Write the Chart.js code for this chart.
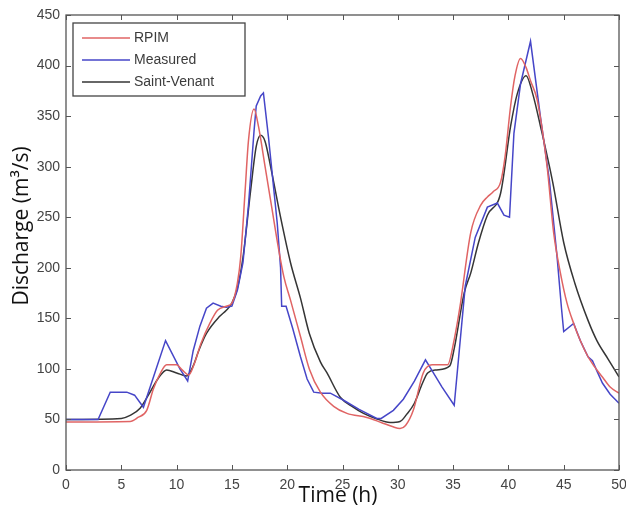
<!DOCTYPE html>
<html>
<head>
<meta charset="utf-8">
<script src="https://cdn.jsdelivr.net/npm/chart.js@4.4.0/dist/chart.umd.min.js"></script>
<style>
html,body{margin:0;padding:0;background:#fff;}
#wrap{width:626px;height:510px;position:relative;}
</style>
</head>
<body>
<div id="wrap"><canvas id="c" width="626" height="510"></canvas></div>
<script>
// ---- data (time in hours, discharge in m3/s) ----
const seriesNames = ["RPIM", "Measured", "Saint-Venant"];
const xTicks = [0, 5, 10, 15, 20, 25, 30, 35, 40, 45, 50];
const yTicks = [0, 50, 100, 150, 200, 250, 300, 350, 400, 450];
const xTitle = "Time (h)";
const yTitle = "Discharge (m³/s)";

const rpimTime = [0, 5.8, 6.5, 7.3, 7.9, 8.5, 9.1, 10.0, 10.5, 11.1, 11.6, 12.2, 13.0, 13.7, 14.5, 15.0, 15.5, 15.8, 16.2, 16.5, 17.0, 17.4, 18.0, 18.6, 19.2, 19.7, 20.3, 21.2, 22.0, 23.0, 24.2, 25.4, 27.2, 28.5, 29.5, 30.2, 30.7, 31.4, 32.3, 33.1, 34.0, 34.5, 35.1, 35.6, 36.6, 37.5, 38.1, 38.6, 39.3, 39.7, 40.2, 40.6, 41.1, 41.6, 42.0, 42.6, 43.5, 44.1, 44.7, 45.3, 45.9, 46.5, 47.2, 47.8, 48.5, 49.2, 50];
const rpimValues = [47.5, 48, 52, 59, 80, 95, 104, 104, 99, 94, 105, 125, 145, 158, 162, 165, 185, 211, 277, 326, 357, 340, 300, 260, 220, 191, 168, 132, 100, 77, 63, 56, 52, 47, 43, 41, 44, 59, 96, 104, 104, 104, 129, 160, 235, 262, 270, 275, 285, 310, 360, 390, 407, 398, 385, 366, 300, 234, 195, 165, 145, 128, 112, 102, 92, 82, 76];

const measuredTime = [0, 2.9, 4.0, 5.5, 6.2, 7.0, 9.0, 10.3, 11.0, 11.5, 12.1, 12.7, 13.3, 14.0, 14.5, 15.0, 15.5, 16.0, 16.5, 17.0, 17.2, 17.6, 17.85, 18.3, 19.1, 19.4, 19.5, 19.9, 20.5, 21.2, 21.8, 22.4, 23.2, 23.9, 25.1, 26.5, 28.1, 28.5, 29.6, 30.5, 31.5, 32.5, 33.0, 34.0, 35.1, 36.1, 37.0, 38.1, 39.0, 39.6, 40.1, 40.5, 41.1, 42.0, 42.9, 43.7, 44.4, 44.8, 45.0, 45.9, 46.5, 47.2, 47.6, 48.0, 48.5, 49.2, 50];
const measuredValues = [50, 50, 77, 77, 74, 62, 128, 100, 88, 118, 142, 160, 165, 162, 161, 162, 178, 205, 262, 335, 360, 370, 373, 330, 244, 200, 162, 162, 140, 112, 90, 77, 76, 76, 69, 60, 51, 51, 59, 70, 88, 109, 100, 82, 64, 182, 230, 260, 264, 252, 250, 333, 382, 424, 349, 287, 211, 160, 137, 145, 128, 112, 108, 98, 86, 75, 66];

const svTime = [0, 5.0, 5.8, 6.7, 7.5, 8.3, 9.1, 10.0, 10.9, 11.5, 12.0, 12.7, 13.9, 14.5, 15.0, 15.5, 16.0, 16.7, 17.2, 17.6, 18.0, 18.5, 19.4, 20.3, 21.2, 22.0, 23.0, 23.6, 24.8, 26.0, 26.9, 28.0, 29.3, 30.2, 30.8, 31.5, 32.2, 32.7, 33.5, 34.7, 35.1, 36.0, 36.6, 37.3, 38.1, 39.3, 40.2, 40.8, 41.6, 42.2, 42.9, 44.0, 45.0, 46.0, 47.2, 48.0, 49.0, 50];
const svValues = [50, 51, 54, 61, 75, 90, 99, 96, 93, 103, 118, 135, 152, 158, 165, 180, 210, 277, 320, 331, 325, 300, 250, 205, 170, 135, 107, 96, 72, 62, 56, 51, 47, 48, 55, 66, 85, 96, 99, 103, 120, 175, 195, 225, 252, 274, 340, 372, 390, 372, 340, 285, 225, 185, 148, 128, 110, 92];

const seriesColors = ["#e06464", "#4646c8", "#353535"];

function pts(t, v) { return t.map((x, i) => ({x: x, y: v[i]})); }

const frame = {
  id: 'frame',
  afterDraw(chart) {
    const ctx = chart.ctx, a = chart.chartArea;
    const xs = chart.scales.x, ys = chart.scales.y;
    ctx.save();
    ctx.strokeStyle = '#555';
    ctx.lineWidth = 1.3;
    ctx.strokeRect(a.left, a.top, a.right - a.left, a.bottom - a.top);
    ctx.lineWidth = 1;
    const L = 5;
    ctx.beginPath();
    xTicks.forEach(t => {
      const px = Math.round(xs.getPixelForValue(t)) + 0.5;
      ctx.moveTo(px, a.bottom); ctx.lineTo(px, a.bottom - L);
      ctx.moveTo(px, a.top); ctx.lineTo(px, a.top + L);
    });
    yTicks.forEach(t => {
      const py = Math.round(ys.getPixelForValue(t)) + 0.5;
      ctx.moveTo(a.left, py); ctx.lineTo(a.left + L, py);
      ctx.moveTo(a.right, py); ctx.lineTo(a.right - L, py);
    });
    ctx.stroke();
    // legend box inside plot (MATLAB style)
    const bx = a.left + 7, by = a.top + 8, bw = 172, bh = 73;
    ctx.fillStyle = '#fff';
    ctx.fillRect(bx, by, bw, bh);
    ctx.strokeStyle = '#444';
    ctx.lineWidth = 1.3;
    ctx.strokeRect(bx, by, bw, bh);
    ctx.font = '14px "Liberation Sans", Arial, sans-serif';
    ctx.textBaseline = 'middle';
    ctx.textAlign = 'left';
    chart.data.datasets.forEach((ds, i) => {
      const yy = by + 15 + i * 22;
      ctx.strokeStyle = ds.borderColor;
      ctx.lineWidth = 1.5;
      ctx.beginPath();
      ctx.moveTo(bx + 9, yy); ctx.lineTo(bx + 57, yy);
      ctx.stroke();
      ctx.fillStyle = '#3c3c3c';
      ctx.fillText(ds.label, bx + 61, yy);
    });
    // axis titles
    ctx.fillStyle = '#111';
    ctx.font = '21px "Open Sans", sans-serif';
    ctx.textAlign = 'center';
    ctx.textBaseline = 'middle';
    ctx.fillText(xTitle, 338, 496);
    ctx.save();
    ctx.translate(22, 226);
    ctx.rotate(-Math.PI / 2);
    ctx.fillText(yTitle, 0, 0);
    ctx.restore();
    ctx.restore();
  }
};

new Chart(document.getElementById('c'), {
  type: 'line',
  data: {
    datasets: [
      {label: seriesNames[0], data: pts(rpimTime, rpimValues), borderColor: seriesColors[0], cubicInterpolationMode: 'monotone'},
      {label: seriesNames[1], data: pts(measuredTime, measuredValues), borderColor: seriesColors[1], tension: 0},
      {label: seriesNames[2], data: pts(svTime, svValues), borderColor: seriesColors[2], cubicInterpolationMode: 'monotone'}
    ]
  },
  options: {
    responsive: false,
    animation: false,
    elements: {point: {radius: 0}, line: {borderWidth: 1.5, fill: false}},
    layout: {padding: {top: 15, right: 7, left: 0, bottom: 0}},
    plugins: {legend: {display: false}, tooltip: {enabled: false}},
    scales: {
      x: {
        type: 'linear', min: 0, max: 50,
        afterFit(s) { s.height = 40; s.paddingLeft = 0; s.paddingRight = 0; },
        afterBuildTicks(s) { s.ticks = xTicks.map(v => ({value: v})); },
        grid: {display: false, drawTicks: false},
        border: {display: false},
        ticks: {padding: 7, color: '#444', font: {family: '"Liberation Sans", Arial, sans-serif', size: 14}, maxRotation: 0, autoSkip: false},
        title: {display: false}
      },
      y: {
        type: 'linear', min: 0, max: 450,
        afterFit(s) { s.width = 66; s.paddingTop = 0; s.paddingBottom = 0; },
        afterBuildTicks(s) { s.ticks = yTicks.map(v => ({value: v})); },
        grid: {display: false, drawTicks: false},
        border: {display: false},
        ticks: {padding: 6, color: '#444', font: {family: '"Liberation Sans", Arial, sans-serif', size: 14}, autoSkip: false},
        title: {display: false}
      }
    }
  },
  plugins: [frame]
});
</script>
</body>
</html>
